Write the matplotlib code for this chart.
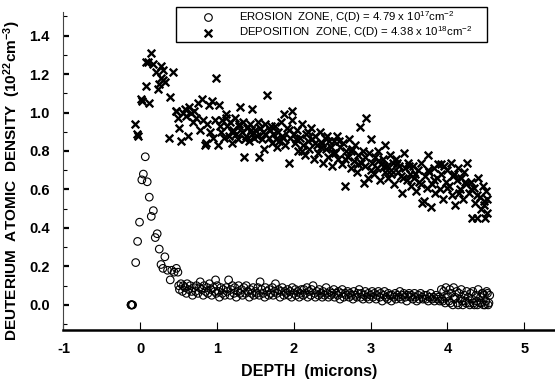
import matplotlib
matplotlib.use("Agg")
import matplotlib.pyplot as plt
from matplotlib.ticker import MultipleLocator
from matplotlib.patches import Rectangle

plt.rcParams['font.family'] = ['Liberation Sans', 'DejaVu Sans']
plt.rcParams['mathtext.default'] = 'regular'

# ---------------- data ----------------
# Erosion zone (open circles)
ero_x = [-0.12, -0.12, -0.11, -0.11, -0.10,
         -0.06, -0.035, -0.01, 0.02, 0.04, 0.065, 0.09, 0.117, 0.143, 0.17, 0.195, 0.22,
         0.247, 0.27, 0.295, 0.32, 0.355, 0.39, 0.41, 0.44, 0.47, 0.49,
         0.50, 0.51, 0.53, 0.55, 0.56, 0.58, 0.60, 0.61, 0.63, 0.65, 0.67, 0.68, 0.70,
         0.72, 0.73, 0.75, 0.77, 0.78, 0.80, 0.82, 0.83, 0.85, 0.87, 0.88, 0.90,
         0.92, 0.93, 0.95, 0.97, 0.98, 0.99, 1.00, 1.02, 1.03, 1.05, 1.07, 1.08, 1.10,
         1.12, 1.13, 1.15, 1.17, 1.18, 1.20, 1.22, 1.23, 1.25, 1.27, 1.28, 1.30,
         1.32, 1.33, 1.35, 1.37, 1.38, 1.40, 1.42, 1.43, 1.45, 1.47, 1.48, 1.50,
         1.52, 1.53, 1.55, 1.56, 1.58, 1.60, 1.62, 1.63, 1.65, 1.67, 1.68, 1.70,
         1.72, 1.73, 1.75, 1.76, 1.78, 1.80, 1.82, 1.83, 1.85, 1.87, 1.88, 1.90,
         1.92, 1.93, 1.95, 1.97, 1.98, 2.00, 2.02, 2.03, 2.05, 2.07, 2.08, 2.10,
         2.12, 2.13, 2.15, 2.17, 2.18, 2.20, 2.22, 2.23, 2.25, 2.27, 2.28, 2.30,
         2.32, 2.33, 2.35, 2.37, 2.38, 2.40, 2.42, 2.43, 2.45, 2.47, 2.48, 2.50,
         2.52, 2.53, 2.55, 2.57, 2.58, 2.60, 2.62, 2.63, 2.65, 2.67, 2.68, 2.70,
         2.72, 2.73, 2.75, 2.77, 2.78, 2.80, 2.82, 2.83, 2.85, 2.87, 2.88, 2.90,
         2.92, 2.93, 2.95, 2.97, 2.98, 3.00, 3.02, 3.03, 3.05, 3.07, 3.08, 3.10,
         3.12, 3.13, 3.15, 3.17, 3.18, 3.20, 3.22, 3.23, 3.25, 3.27, 3.28, 3.30,
         3.32, 3.33, 3.35, 3.37, 3.38, 3.40, 3.42, 3.43, 3.45, 3.47, 3.48, 3.50,
         3.52, 3.53, 3.55, 3.57, 3.58, 3.60, 3.62, 3.63, 3.65, 3.67, 3.68, 3.70,
         3.72, 3.73, 3.75, 3.77, 3.78, 3.80, 3.82, 3.83, 3.85, 3.87, 3.88, 3.90,
         3.92, 3.93, 3.95, 3.97, 3.98, 4.00, 4.02, 4.03, 4.05, 4.07, 4.08, 4.10,
         4.12, 4.13, 4.15, 4.17, 4.18, 4.20, 4.22, 4.23, 4.25, 4.27, 4.28, 4.30,
         4.32, 4.33, 4.35, 4.37, 4.38, 4.40, 4.42, 4.43, 4.45, 4.47, 4.48, 4.50, 4.52, 4.53, 4.55,
         3.94, 3.99, 4.04, 4.09, 4.14, 4.19, 4.24, 4.29, 4.34, 4.39, 4.44, 4.49, 4.54, 4.46, 4.51]
ero_y = [0.0, 0.0, 0.0, 0.0, 0.0,
         0.22, 0.33, 0.43, 0.65, 0.68, 0.77, 0.64, 0.56, 0.46, 0.49, 0.35, 0.37,
         0.29, 0.21, 0.19, 0.25, 0.18, 0.13, 0.18, 0.17, 0.19, 0.17,
         0.10, 0.08, 0.11, 0.07, 0.10, 0.09, 0.06, 0.11, 0.08, 0.10, 0.07, 0.05, 0.09,
         0.07, 0.10, 0.06, 0.09, 0.12, 0.08, 0.05, 0.10, 0.07, 0.09, 0.06, 0.11,
         0.08, 0.05, 0.09, 0.07, 0.13, 0.06, 0.10, 0.07, 0.04, 0.09, 0.06, 0.08, 0.05,
         0.09, 0.07, 0.13, 0.05, 0.08, 0.10, 0.06, 0.09, 0.04, 0.07, 0.10, 0.06,
         0.08, 0.05, 0.09, 0.06, 0.10, 0.07, 0.04, 0.08, 0.06, 0.09, 0.05, 0.07,
         0.06, 0.09, 0.05, 0.12, 0.08, 0.06, 0.04, 0.09, 0.07, 0.05, 0.08, 0.06,
         0.09, 0.05, 0.07, 0.11, 0.06, 0.08, 0.04, 0.07, 0.09, 0.05, 0.07, 0.06,
         0.08, 0.05, 0.07, 0.04, 0.09, 0.06, 0.08, 0.05, 0.07, 0.04, 0.06, 0.08,
         0.05, 0.08, 0.06, 0.09, 0.04, 0.07, 0.05, 0.08, 0.10, 0.06, 0.04, 0.07,
         0.05, 0.08, 0.06, 0.04, 0.07, 0.05, 0.09, 0.06, 0.04, 0.07, 0.05, 0.06,
         0.08, 0.04, 0.06, 0.05, 0.07, 0.03, 0.06, 0.08, 0.04, 0.06, 0.05, 0.07,
         0.04, 0.06, 0.05, 0.03, 0.07, 0.05, 0.04, 0.06, 0.08, 0.04, 0.06, 0.03,
         0.05, 0.07, 0.04, 0.06, 0.03, 0.05, 0.07, 0.04, 0.06, 0.03, 0.05, 0.07,
         0.04, 0.06, 0.02, 0.05, 0.07, 0.04, 0.03, 0.06, 0.05, 0.02, 0.05, 0.04,
         0.06, 0.03, 0.05, 0.04, 0.07, 0.03, 0.05, 0.06, 0.04, 0.02, 0.05, 0.06,
         0.04, 0.05, 0.03, 0.06, 0.04, 0.02, 0.05, 0.03, 0.06, 0.04, 0.03, 0.05,
         0.03, 0.05, 0.02, 0.04, 0.06, 0.03, 0.04, 0.02, 0.05, 0.03, 0.04, 0.02,
         0.08, 0.03, 0.07, 0.01, 0.09, 0.05, 0.02, 0.08, 0.06, 0.00, 0.09, 0.04,
         0.07, 0.01, 0.06, 0.03, 0.08, 0.00, 0.05, 0.02, 0.07, 0.04, 0.01, 0.06,
         0.03, 0.07, 0.00, 0.05, 0.02, 0.08, 0.01, 0.04, 0.06, 0.00, 0.05, 0.02, 0.06, 0.00, 0.05,
         0.02, 0.04, 0.01, 0.03, 0.00, 0.02, 0.01, 0.00, 0.01, 0.00, 0.01, 0.00, 0.01, 0.06, 0.07]

# Deposition zone (crosses)
dep_x = [-0.065, -0.04, -0.03, 0.01, 0.025, 0.07, 0.07, 0.10, 0.117, 0.143, 0.17, 0.20,
         0.225, 0.24, 0.265, 0.275, 0.295, 0.30, 0.32, 0.37, 0.39, 0.42, 0.46, 0.47, 0.49,
         0.50, 0.53, 0.55, 0.58, 0.60, 0.62, 0.64, 0.66, 0.68, 0.70, 0.72, 0.75, 0.78, 0.80,
         0.82, 0.84, 0.85, 0.87, 0.89, 0.91, 0.93, 0.95, 0.97, 0.98, 1.01,
         1.03, 1.05, 1.07, 1.09, 1.11, 1.13, 1.15, 1.17, 1.19, 1.21, 1.23, 1.25, 1.27, 1.29,
         1.30, 1.32, 1.34, 1.35, 1.37, 1.39, 1.41, 1.43, 1.45, 1.46, 1.48, 1.50,
         1.52, 1.54, 1.56, 1.58, 1.60, 1.61, 1.63, 1.65, 1.67, 1.69, 1.71, 1.73, 1.75, 1.77,
         1.79, 1.81, 1.83, 1.85, 1.87, 1.89, 1.91, 1.93, 1.95, 1.97, 1.98, 2.00,
         2.02, 2.04, 2.06, 2.08, 2.10, 2.12, 2.14, 2.16, 2.18, 2.20, 2.22, 2.24, 2.26, 2.28,
         2.30, 2.32, 2.34, 2.36, 2.38, 2.40, 2.42, 2.44, 2.46, 2.48, 2.50,
         2.52, 2.54, 2.56, 2.58, 2.60, 2.62, 2.64, 2.66, 2.68, 2.70, 2.72, 2.74, 2.76, 2.78,
         2.80, 2.82, 2.84, 2.86, 2.88, 2.90, 2.91, 2.93, 2.94, 2.96, 2.98, 3.00,
         3.02, 3.04, 3.06, 3.08, 3.10, 3.12, 3.14, 3.16, 3.18, 3.19, 3.21, 3.23, 3.25, 3.27,
         3.29, 3.31, 3.33, 3.35, 3.37, 3.39, 3.41, 3.43, 3.45, 3.47, 3.49,
         3.51, 3.53, 3.55, 3.57, 3.59, 3.61, 3.63, 3.65, 3.67, 3.69, 3.71, 3.73, 3.74, 3.76,
         3.78, 3.80, 3.82, 3.84, 3.86, 3.88, 3.90, 3.92, 3.94, 3.96, 3.98, 4.00,
         4.02, 4.04, 4.06, 4.08, 4.10, 4.12, 4.14, 4.16, 4.18, 4.20, 4.22, 4.24, 4.26, 4.28,
         4.30, 4.32, 4.34, 4.36, 4.38, 4.40, 4.42, 4.44, 4.46, 4.48, 4.49, 4.50, 4.52,
         1.04, 1.12, 1.20, 1.28, 1.36, 1.44, 1.53, 1.62, 1.70, 1.78, 1.86, 1.94, 2.03, 2.11,
         2.19, 2.27, 2.35, 2.43, 2.51, 2.59, 2.67, 2.75, 2.83, 2.92, 3.01, 3.09, 3.17, 3.26,
         3.34, 3.42, 3.50, 3.58, 3.66, 3.75, 3.83, 3.91, 3.99, 4.07, 4.15, 4.23, 4.31, 4.39,
         4.47, 4.51]
dep_y = [0.94, 0.89, 0.88, 1.07, 1.06, 1.14, 1.26, 1.26, 1.05, 1.31, 1.25, 1.21,
         1.12, 1.15, 1.18, 1.24, 1.22, 1.17, 1.16, 0.87, 1.08, 1.21, 1.01, 1.01, 0.97,
         0.92, 0.85, 1.00, 1.02, 0.98, 0.88, 1.03, 1.00, 0.95, 1.01, 0.97, 1.05, 0.91, 1.07,
         0.96, 0.83, 0.84, 0.94, 1.04, 0.90, 1.06, 0.87, 0.96, 1.18, 0.83,
         1.04, 0.90, 0.96, 0.87, 0.99, 0.93, 0.88, 0.95, 0.84, 0.91, 0.97, 0.89, 0.86, 0.93,
         1.03, 0.90, 0.95, 0.77, 0.88, 0.92, 0.85, 0.94, 0.89, 1.02, 0.87, 0.91,
         0.88, 0.77, 0.92, 0.86, 0.90, 0.81, 0.94, 1.09, 0.87, 0.91, 0.84, 0.89, 0.93, 0.86,
         0.90, 0.85, 0.95, 0.88, 0.99, 0.83, 0.92, 0.74, 0.87, 0.96, 1.01, 0.89,
         0.84, 0.91, 0.80, 0.87, 0.94, 0.83, 0.78, 0.89, 0.85, 0.81, 0.92, 0.86, 0.76, 0.88,
         0.83, 0.79, 0.90, 0.84, 0.74, 0.87, 0.81, 0.77, 0.85, 0.82, 0.72,
         0.85, 0.79, 0.88, 0.76, 0.82, 0.73, 0.84, 0.62, 0.80, 0.77, 0.86, 0.71, 0.81, 0.75,
         0.83, 0.69, 0.78, 0.925, 0.74, 0.80, 0.635, 0.72, 0.97, 0.66, 0.79, 0.86,
         0.74, 0.68, 0.77, 0.71, 0.80, 0.65, 0.73, 0.76, 0.69, 0.83, 0.72, 0.66, 0.78, 0.70,
         0.74, 0.63, 0.76, 0.69, 0.72, 0.67, 0.58, 0.79, 0.71, 0.65, 0.74,
         0.68, 0.62, 0.72, 0.66, 0.59, 0.70, 0.64, 0.74, 0.53, 0.54, 0.67, 0.61, 0.78, 0.69,
         0.51, 0.63, 0.71, 0.58, 0.66, 0.73, 0.60, 0.68, 0.55, 0.72, 0.64, 0.70,
         0.62, 0.74, 0.57, 0.68, 0.52, 0.65, 0.71, 0.60, 0.66, 0.55, 0.69, 0.63, 0.735, 0.58,
         0.64, 0.45, 0.61, 0.53, 0.45, 0.66, 0.56, 0.50, 0.62, 0.54, 0.45, 0.59, 0.48,
         0.93, 0.97, 0.90, 0.94, 0.86, 0.91, 0.95, 0.89, 0.93, 0.82, 0.87, 0.91, 0.86, 0.80,
         0.90, 0.84, 0.82, 0.88, 0.79, 0.85, 0.76, 0.80, 0.73, 0.77, 0.70, 0.75, 0.72, 0.68,
         0.74, 0.66, 0.72, 0.68, 0.63, 0.70, 0.65, 0.73, 0.61, 0.67, 0.58, 0.64, 0.60, 0.57,
         0.52, 0.55]

ero_label = "EROSION  ZONE, C(D) = 4.79 x 10$^{17}$cm$^{-2}$"
dep_label = "DEPOSITION  ZONE, C(D) = 4.38 x 10$^{18}$cm$^{-2}$"
x_label = "DEPTH  (microns)"
y_label = "DEUTERIUM  ATOMIC  DENSITY  (10$^{22}$cm$^{-3}$)"
x_ticks = [-1, 0, 1, 2, 3, 4, 5]
y_ticks = [0.0, 0.2, 0.4, 0.6, 0.8, 1.0, 1.2, 1.4]

# ---------------- figure ----------------
fig = plt.figure(figsize=(5.55, 3.80), dpi=100)
ax = fig.add_axes([0.1144, 0.1303, 0.8856, 0.8389])

ax.scatter(ero_x, ero_y, s=30, facecolors='none', edgecolors='black', linewidths=0.8,
           marker='o', label=ero_label, zorder=3)
ax.scatter(dep_x, dep_y, s=30, c='black', linewidths=1.7, marker='x',
           label=dep_label, zorder=3)

ax.set_xlim(-1, 5.4)
ax.set_ylim(-0.133, 1.524)

ax.set_xticks(x_ticks)
ax.set_xticklabels([str(t) for t in x_ticks])
ax.set_yticks(y_ticks)
ax.set_yticklabels([f"{t:.1f}" for t in y_ticks])
ax.yaxis.set_minor_locator(MultipleLocator(0.1))

for lab in ax.get_xticklabels() + ax.get_yticklabels():
    lab.set_fontweight('bold')
    lab.set_fontsize(10.5)

ax.tick_params(axis='x', which='major', direction='in', length=6, width=0.8, pad=8)
ax.tick_params(axis='y', which='major', direction='in', length=4, width=1.6, pad=10)
ax.tick_params(axis='y', which='minor', direction='in', length=3, width=0.8)

ax.spines['top'].set_visible(False)
ax.spines['right'].set_visible(False)
ax.spines['left'].set_linewidth(0.8)
ax.spines['left'].set_color('#444444')
ax.spines['bottom'].set_linewidth(1.8)

ax.set_xlabel(x_label, fontsize=11.5, fontweight='bold', labelpad=6)
ax.set_ylabel(y_label, fontsize=11.1, fontweight='bold', labelpad=4)
ax.yaxis.set_label_coords(-0.083, 0.47)

leg = ax.legend(loc='upper left', bbox_to_anchor=(176/555, 1 - 7/380),
                bbox_transform=fig.transFigure, frameon=False,
                fontsize=8.2, handletextpad=0.0, borderpad=0.15,
                labelspacing=0.0, handlelength=5.4, borderaxespad=0)

# legend box
fig.patches.append(Rectangle((176/555, 1 - 42/380), 311/555, 35/380,
                             transform=fig.transFigure, fill=False,
                             edgecolor='black', linewidth=1.0, zorder=5))

fig.savefig("out.png", dpi=100)
